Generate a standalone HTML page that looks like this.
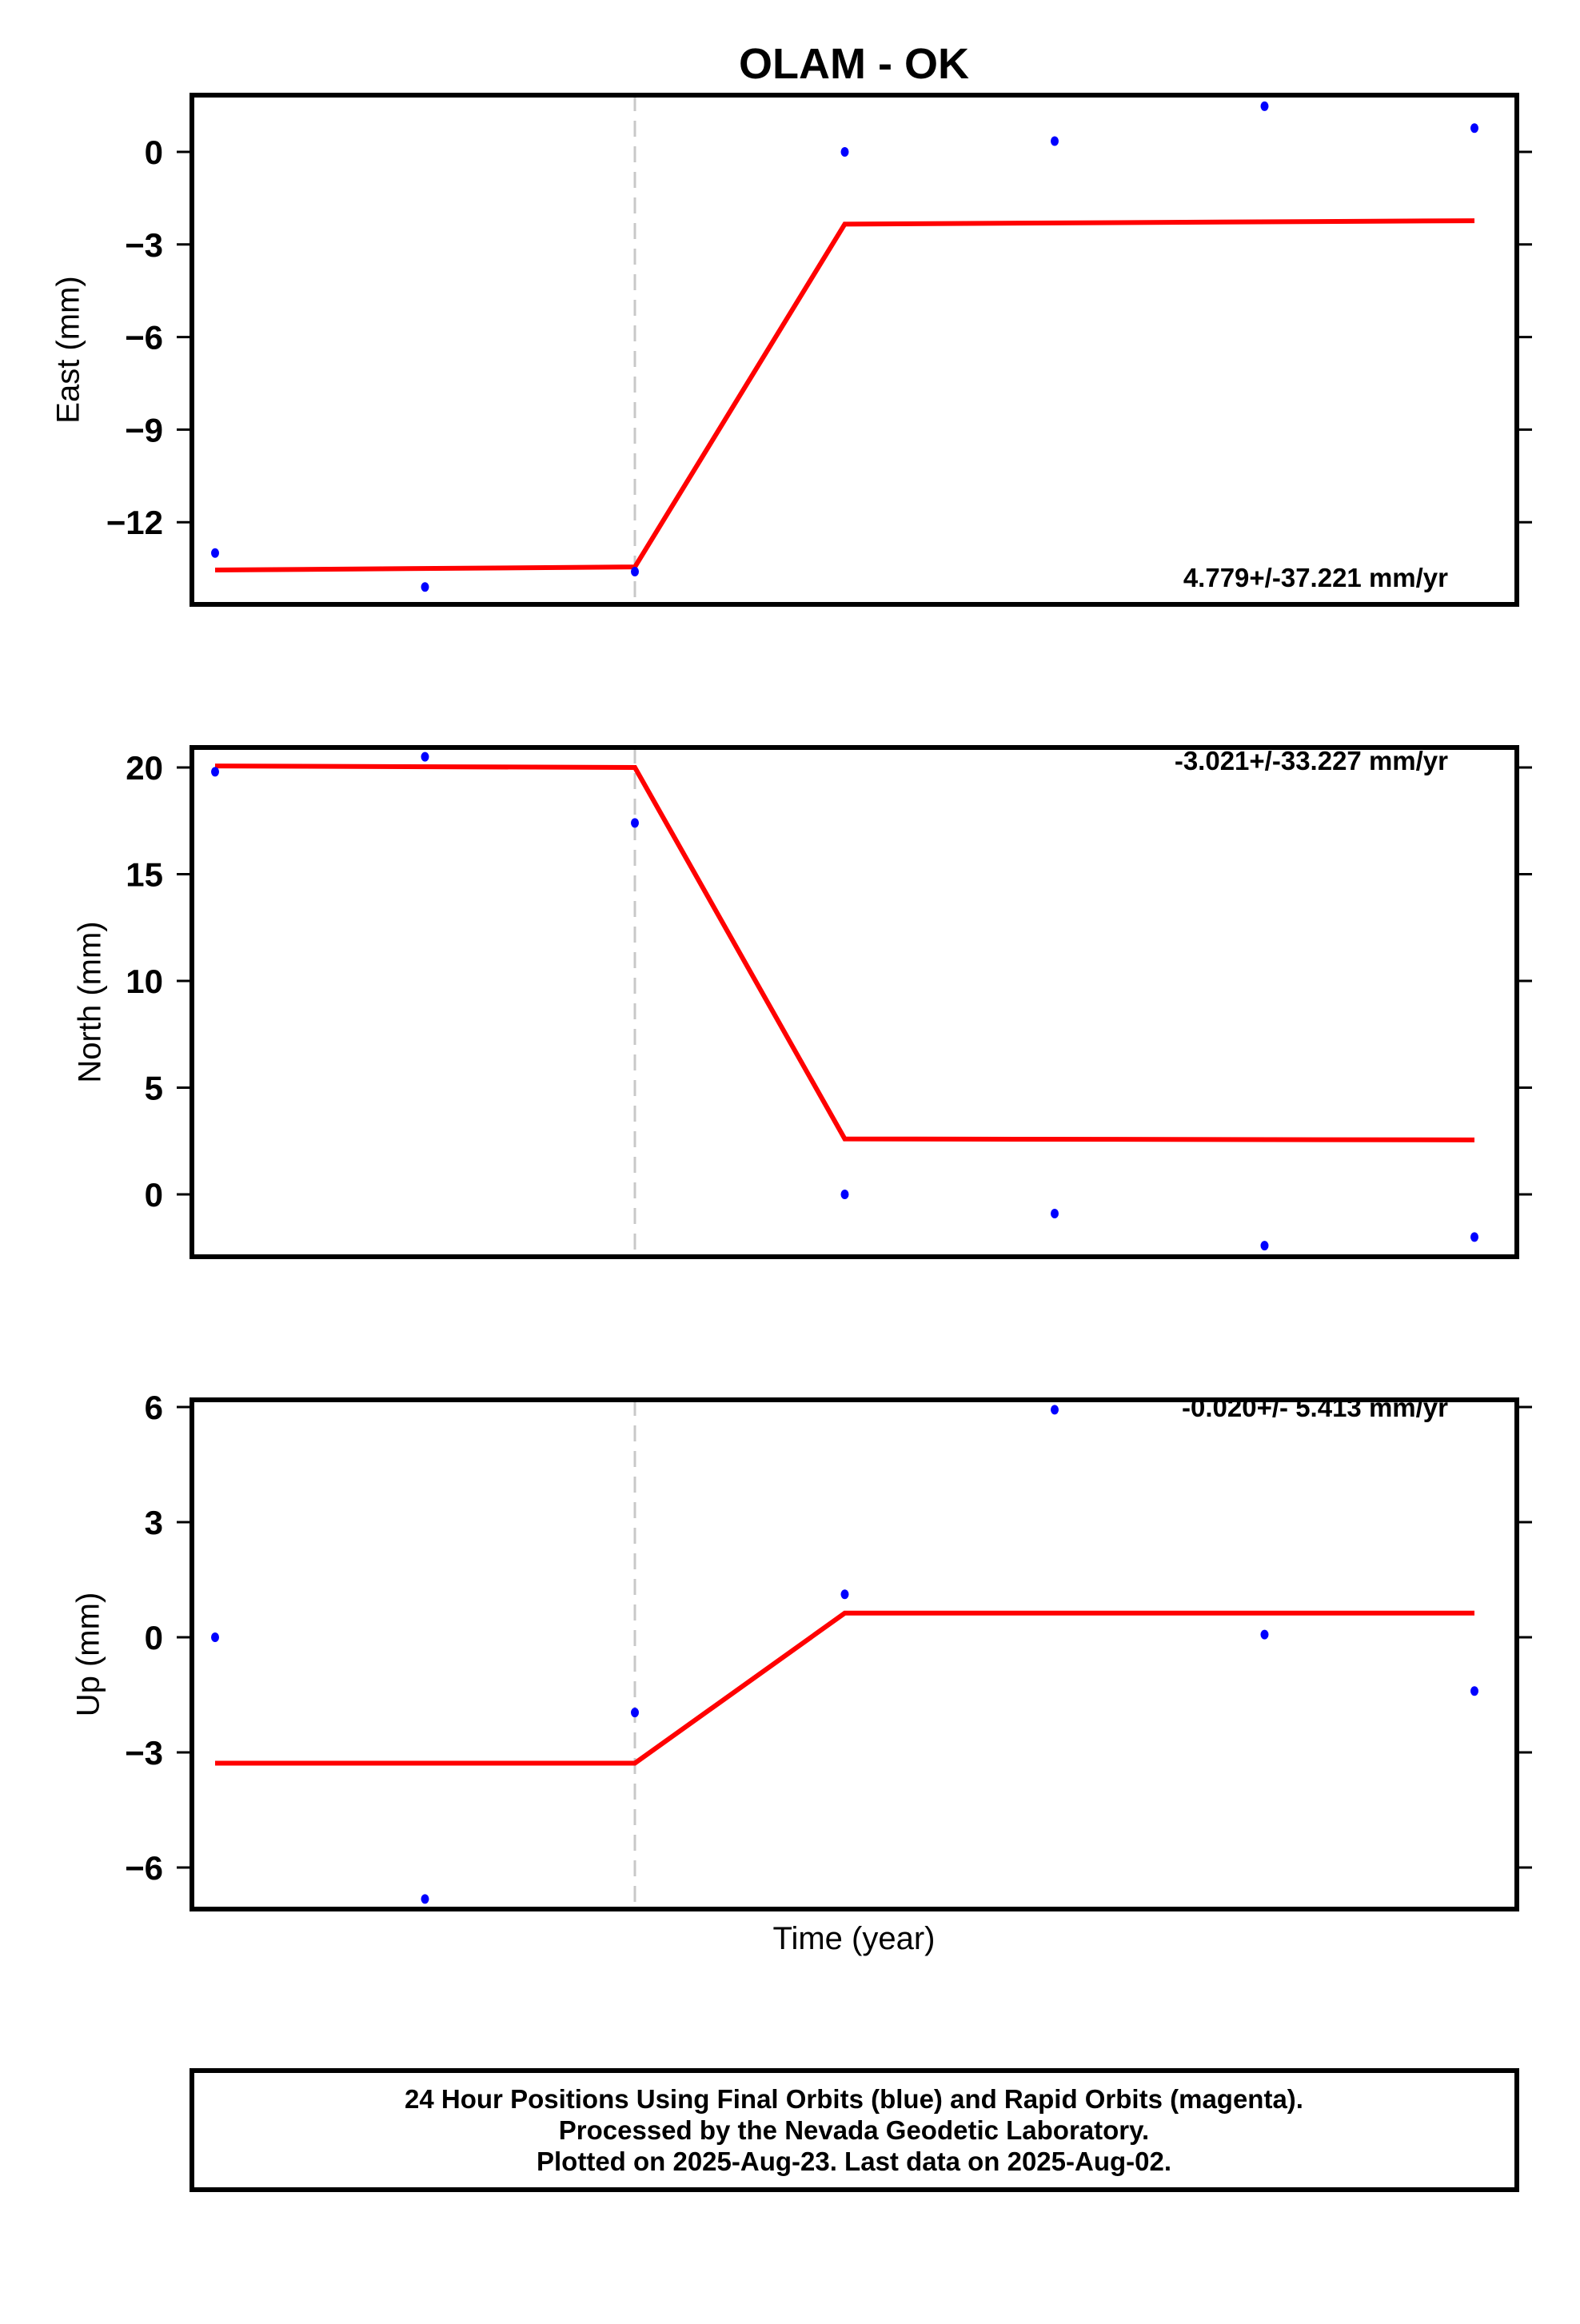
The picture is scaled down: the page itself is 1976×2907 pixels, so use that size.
<!DOCTYPE html>
<html><head><meta charset="utf-8"><style>
html,body{margin:0;padding:0;background:#fff}
svg text{font-family:"Liberation Sans",Arial,sans-serif}
</style></head><body>
<svg id="chart" width="1976" height="2902" viewBox="0 0 1976 2902" xmlns="http://www.w3.org/2000/svg">
<text x="1068" y="98" text-anchor="middle" font-size="54" font-weight="bold">OLAM - OK</text>
<g id="panels"></g>
<text x="1068" y="2438" text-anchor="middle" font-size="40">Time (year)</text>
<rect x="240" y="2590" width="1657" height="149" fill="none" stroke="#000" stroke-width="6"/>
<text x="1068" y="2637" text-anchor="middle" font-size="33" font-weight="bold">24 Hour Positions Using Final Orbits (blue) and Rapid Orbits (magenta).</text>
<text x="1068" y="2676" text-anchor="middle" font-size="33" font-weight="bold">Processed by the Nevada Geodetic Laboratory.</text>
<text x="1068" y="2715" text-anchor="middle" font-size="33" font-weight="bold">Plotted on 2025-Aug-23. Last data on 2025-Aug-02.</text>
</svg>
<script>
const xIndex = [0, 1, 2, 3, 4, 5, 6];
const eastValues = [-13.0, -14.1, -13.6, 0, 0.35, 1.48, 0.77];
const eastModel = [-13.55, -13.45, -2.34, -2.23];
const northValues = [19.8, 20.5, 17.4, 0, -0.9, -2.4, -2.0];
const northModel = [20.07, 20.0, 2.6, 2.55];
const upValues = [0, -6.82, -1.96, 1.12, 5.93, 0.07, -1.4];
const upModel = [-3.28, -3.28, 0.63, 0.63];
const modelX = [0, 2, 3, 6];
const eastTicks = [0, -3, -6, -9, -12];
const northTicks = [20, 15, 10, 5, 0];
const upTicks = [6, 3, 0, -3, -6];
const breakX = 2;

const NS = "http://www.w3.org/2000/svg";
const L = 240, R = 1897;
function xs(i){ return 269 + i * 262.5; }
const panels = [
  {name:"east", title:"East (mm)", vals:eastValues, model:eastModel, ticks:eastTicks, top:119, bot:756, v0:0, y0:190, ppu:38.6, rate:"4.779+/-37.221 mm/yr", rateY:734, titleX:88},
  {name:"north", title:"North (mm)", vals:northValues, model:northModel, ticks:northTicks, top:935, bot:1572, v0:0, y0:1494, ppu:26.7, rate:"-3.021+/-33.227 mm/yr", rateY:963, titleX:115},
  {name:"up", title:"Up (mm)", vals:upValues, model:upModel, ticks:upTicks, top:1751, bot:2388, v0:0, y0:2048, ppu:48, rate:"-0.020+/- 5.413 mm/yr", rateY:1772, titleX:113}
];
const g = document.getElementById("panels");
function mk(tag, attrs, parent){
  const e = document.createElementNS(NS, tag);
  for (const k in attrs) e.setAttribute(k, attrs[k]);
  (parent||g).appendChild(e);
  return e;
}
panels.forEach(p => {
  const ys = v => p.y0 - (v - p.v0) * p.ppu;
  const grp = mk("g", {});
  
  
  const dash = mk("line", {x1:xs(breakX), x2:xs(breakX), y1:p.top, y2:p.bot, stroke:"#c8c8c8", "stroke-width":3, "stroke-dasharray":"20 12"}, grp);
  
  
  p.ticks.forEach(t => {
    const y = ys(t);
    const tl = mk("line", {x1:221, x2:L, y1:y, y2:y, stroke:"#000", "stroke-width":3}, grp);
    
    
    const tr = mk("line", {x1:R, x2:R+19, y1:y, y2:y, stroke:"#000", "stroke-width":3}, grp);
    
    
    const tx = mk("text", {x:204, y:y+15, "text-anchor":"end", "font-size":42, "font-weight":"bold"}, grp);
    tx.textContent = t < 0 ? "\u2212" + Math.abs(t) : String(t);
    
    
  });
  const pts = modelX.map((xi, k) => xs(xi) + "," + ys(p.model[k])).join(" ");
  const pl = mk("polyline", {points:pts, fill:"none", stroke:"#ff0000", "stroke-width":6}, grp);
  
  
  p.vals.forEach((v, i) => {
    const c = mk("ellipse", {cx:xs(xIndex[i]), cy:ys(v), rx:5, ry:6, fill:"#0000ff"}, grp);
    
    
  });
  const fr = mk("rect", {x:L, y:p.top, width:R-L, height:p.bot-p.top, fill:"none", stroke:"#000", "stroke-width":6}, grp);
  
  
  const rt = mk("text", {x:1811, y:p.rateY, "text-anchor":"end", "font-size":33, "font-weight":"bold"}, grp);
  rt.textContent = p.rate;
  
  
  const cy = (p.top + p.bot) / 2;
  const at = mk("text", {x:p.titleX, y:cy, "text-anchor":"middle", "font-size":40, transform:"rotate(-90 " + p.titleX + " " + cy + ")", "dominant-baseline":"middle"}, grp);
  at.textContent = p.title;
  
  
});
</script>
</body></html>
